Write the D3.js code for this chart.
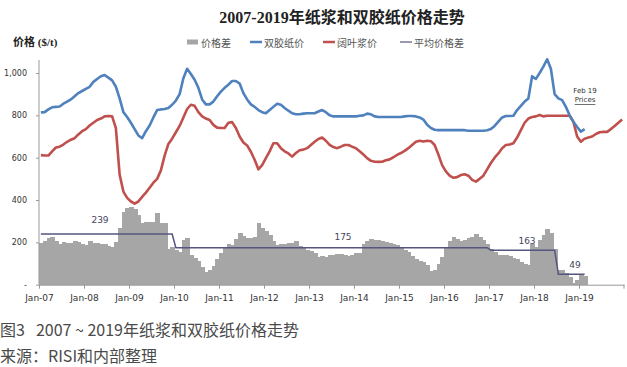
<!DOCTYPE html>
<html><head><meta charset="utf-8">
<script src="https://cdn.jsdelivr.net/npm/d3@7"></script>
<style>
html,body{margin:0;padding:0;background:#fff;}
svg{display:block;}
</style></head>
<body>
<svg id="chart" width="627" height="367"></svg>
<script>
// ---------- data ----------
const startYear = 2007;
const xTickLabels = ["Jan-07","Jan-08","Jan-09","Jan-10","Jan-11","Jan-12","Jan-13","Jan-14","Jan-15","Jan-16","Jan-17","Jan-18","Jan-19"];
const yTickValues = [0,200,400,600,800,1000];
const yTickLabels = ["-","200","400","600","800","1,000"];
const legendNames = ["价格差","双胶纸价","阔叶浆价","平均价格差"];

// 双胶纸价 monthly, Jan-07 .. Feb-19
const paperPrice = [
814,815,828,838,840,842,855,865,875,890,905,915,
925,935,958,972,985,990,978,965,935,880,815,792,
765,735,705,692,725,752,790,825,828,830,835,850,
870,900,975,1020,995,968,930,875,852,852,865,890,
912,930,945,962,962,950,905,875,852,840,825,815,
810,825,840,855,850,835,822,810,805,805,808,810,
810,810,818,825,815,800,795,795,795,795,795,795,
795,798,800,808,805,795,792,792,792,792,792,792,
792,795,797,797,795,790,780,755,740,732,730,730,
730,730,730,730,730,730,727,727,727,727,727,730,
735,750,770,790,797,797,798,825,845,865,880,985,
972,1000,1030,1065,1020,900,880,872,840,800,770,745,
723,735];

// 阔叶浆价 monthly, Jan-07 .. Dec-19
const pulpPrice = [
612,610,610,630,648,652,662,675,685,692,710,725,
735,752,765,778,785,795,797,795,740,520,440,410,
393,383,393,415,435,458,482,500,540,610,665,690,
720,750,790,830,850,845,815,795,785,778,755,742,
740,740,765,768,740,700,672,658,628,590,545,565,
598,630,668,668,645,630,620,605,622,635,638,645,
660,675,688,695,680,660,650,645,652,660,660,652,
645,630,615,598,585,581,580,581,588,592,602,613,
622,632,645,660,675,680,676,680,678,660,615,565,
535,515,505,508,518,522,515,495,487,500,515,545,
575,600,620,645,660,662,668,695,730,765,785,792,
795,802,795,798,798,798,798,798,798,798,770,700,
675,690,695,700,712,720,722,722,735,750,765,780];

// 价格差 monthly, Jan-07 .. Feb-19
const priceGap = [
198,208,219,227,205,190,203,198,198,206,203,192,
188,206,195,197,192,190,183,176,203,266,345,361,
369,358,330,290,298,298,298,337,290,290,169,178,
165,156,211,219,140,124,110,85,62,70,88,120,
150,172,192,188,215,243,230,222,220,227,290,266,
255,235,205,188,190,192,195,195,208,185,175,165,
160,148,132,135,129,138,142,146,147,140,135,140,
148,151,192,205,217,213,210,207,202,195,192,186,
174,166,155,135,120,113,105,92,66,69,100,129,
180,208,224,215,205,210,220,224,238,227,212,190,
170,156,140,140,138,135,125,120,109,98,93,191,
180,211,235,261,243,167,69,69,54,35,10,22,
46,40];

// 平均价格差: level and last month index (months since Jan-07) of each period
const avgGapLevels = [239,175,163,49];
const avgGapLastMonth = [35,119,137,145];
const avgGapLabels = ["239","175","163","49"];

// ---------- chart ----------
const svg = d3.select("#chart");
const nMonths = 156;
const x = d3.scaleLinear().domain([0, nMonths]).range([39, 624]);
const y = d3.scaleLinear().domain([0, 1000]).range([284.7, 73]);

const numFont = "'DejaVu Sans', Verdana, sans-serif";
const cjkFont = "'Noto Sans CJK SC', 'Noto Sans', sans-serif";

// title
svg.append("text")
  .attr("x", 342).attr("y", 17)
  .attr("text-anchor", "middle").attr("dominant-baseline", "central")
  .style("font-family", "'Liberation Serif', 'Noto Sans CJK SC', serif")
  .style("font-weight", "bold").style("font-size", "16px").style("fill", "#222")
  .text("2007-2019年纸浆和双胶纸价格走势");

// y title
svg.append("text")
  .attr("x", 13).attr("y", 42).attr("dominant-baseline", "central")
  .style("font-family", "'Liberation Serif', 'Noto Sans CJK SC', serif")
  .style("font-weight", "bold").style("font-size", "11px").style("fill", "#222")
  .text("价格 ($/t)");

// legend
const legendX = [187, 250, 323, 400];
const legend = svg.append("g");
legendNames.forEach((name, k) => {
  const lx = legendX[k];
  if (k === 0) {
    legend.append("rect").attr("x", lx).attr("y", 39.5).attr("width", 11).attr("height", 5).attr("fill", "#a6a6a6");
  } else {
    const col = k === 1 ? "#4f81bd" : k === 2 ? "#c0504d" : "#55557f";
    legend.append("line").attr("x1", lx).attr("x2", lx + 12).attr("y1", 42).attr("y2", 42)
      .attr("stroke", col).attr("stroke-width", k === 3 ? 1.2 : 2.5);
  }
  legend.append("text").attr("x", lx + 14).attr("y", 42).attr("dominant-baseline", "central")
    .style("font-family", cjkFont).style("font-size", "10px").style("fill", "#555")
    .text(name);
});

// bars
svg.append("g").attr("shape-rendering", "crispEdges")
  .selectAll("rect").data(priceGap).join("rect")
  .attr("x", (d, i) => x(i))
  .attr("width", (d, i) => x(i + 1) - x(i) + 1)
  .attr("y", d => y(d))
  .attr("height", d => y(0) - y(d))
  .attr("fill", "#a6a6a6");

// average line
const avgSeries = priceGap.map((d, i) => {
  const k = avgGapLastMonth.findIndex(m => i <= m);
  return avgGapLevels[k];
});
const lineGen = d3.line().x((d, i) => x(i + 0.5)).y(d => y(d));
svg.append("path").datum(avgSeries).attr("d", lineGen)
  .attr("fill", "none").attr("stroke", "#55557f").attr("stroke-width", 1.5);

// price lines
svg.append("path").datum(pulpPrice).attr("d", lineGen)
  .attr("fill", "none").attr("stroke", "#c0504d").attr("stroke-width", 2.6)
  .attr("stroke-linejoin", "round");
svg.append("path").datum(paperPrice).attr("d", lineGen)
  .attr("fill", "none").attr("stroke", "#4f81bd").attr("stroke-width", 2.6)
  .attr("stroke-linejoin", "round");

// average labels
const avgLabelPos = [[100, 220], [343, 237], [527, 241], [575, 265]];
avgGapLabels.forEach((t, k) => {
  svg.append("text").attr("x", avgLabelPos[k][0]).attr("y", avgLabelPos[k][1])
    .attr("text-anchor", "middle").attr("dominant-baseline", "central")
    .style("font-family", numFont).style("font-size", "9px").style("fill", "#44445a")
    .text(t);
});

// Feb 19 prices note
svg.append("text").attr("x", 585).attr("y", 91).attr("text-anchor", "middle").attr("dominant-baseline", "central")
  .style("font-family", numFont).style("font-size", "7px").style("fill", "#333").text("Feb 19");
svg.append("text").attr("x", 585).attr("y", 100).attr("text-anchor", "middle").attr("dominant-baseline", "central")
  .style("font-family", numFont).style("font-size", "7px").style("fill", "#333")
  .style("text-decoration", "underline").text("Prices");

// axes
const xAxis = d3.axisBottom(x)
  .tickValues(xTickLabels.map((d, k) => k * 12))
  .tickFormat((d, k) => xTickLabels[k])
  .tickSize(4).tickSizeOuter(0);
const gx = svg.append("g").attr("transform", `translate(0,${y(0)})`).call(xAxis);
gx.select(".domain").attr("stroke", "#999");
gx.selectAll(".tick line").attr("stroke", "#999");
gx.selectAll(".tick text").attr("dy", "1em")
  .style("font-family", numFont).style("font-size", "9px").style("fill", "#333");
gx.append("line").attr("x1", x(nMonths)).attr("x2", x(nMonths)).attr("y1", 0).attr("y2", 4).attr("stroke", "#999");

const yAxis = d3.axisLeft(y)
  .tickValues(yTickValues)
  .tickFormat((d, k) => yTickLabels[k])
  .tickSize(3).tickSizeOuter(0).tickPadding(9);
const gy = svg.append("g").attr("transform", `translate(${x(0)},0)`).call(yAxis);
gy.select(".domain").remove();
gy.append("line").attr("x1", 0).attr("x2", 0).attr("y1", 60).attr("y2", y(0)).attr("stroke", "#999");
gy.selectAll(".tick line").attr("stroke", "#999");
gy.selectAll(".tick text")
  .style("font-family", numFont).style("font-size", "8px").style("fill", "#333");

// captions
const cap1 = svg.append("text").attr("x", 0).attr("y", 329).attr("dominant-baseline", "central")
  .style("font-family", cjkFont).style("font-size", "16px").style("fill", "#4a4a4a");
cap1.append("tspan").text("图3");
cap1.append("tspan").attr("dx", 11).text("2007 ~ 2019年纸浆和双胶纸价格走势");
svg.append("text").attr("x", 0).attr("y", 355).attr("dominant-baseline", "central")
  .style("font-family", cjkFont).style("font-size", "16px").style("fill", "#4a4a4a")
  .text("来源：RISI和内部整理");
</script>
</body></html>
